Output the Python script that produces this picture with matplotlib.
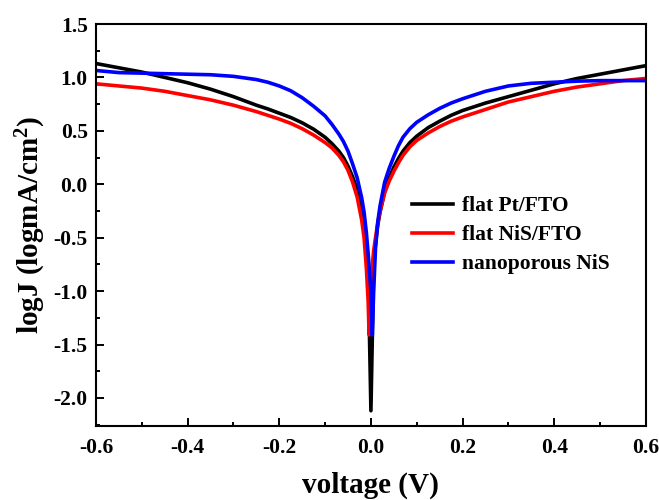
import matplotlib
matplotlib.use("Agg")
import matplotlib.pyplot as plt
from matplotlib.ticker import MultipleLocator

plt.rcParams['font.family'] = ['Liberation Serif', 'DejaVu Serif']
plt.rcParams['font.weight'] = 'bold'
plt.rcParams['axes.unicode_minus'] = False
plt.rcParams['mathtext.fontset'] = 'custom'
plt.rcParams['mathtext.rm'] = 'Liberation Serif:bold'
plt.rcParams['mathtext.bf'] = 'Liberation Serif:bold'
plt.rcParams['mathtext.default'] = 'bf'

# ---- data ----
v_pt = [-0.6, -0.55, -0.5, -0.45, -0.4, -0.35, -0.3, -0.25, -0.225, -0.2, -0.175, -0.15,
        -0.125, -0.1, -0.085, -0.07, -0.06, -0.05, -0.04, -0.03, -0.02, -0.015, -0.01, -0.006,
        0.0,
        0.006, 0.01, 0.015, 0.02, 0.03, 0.04, 0.05, 0.06, 0.07, 0.085, 0.1, 0.125, 0.15,
        0.175, 0.2, 0.25, 0.3, 0.35, 0.4, 0.45, 0.5, 0.55, 0.6]
j_pt = [1.13, 1.09, 1.05, 1.00, 0.95, 0.89, 0.82, 0.74, 0.705, 0.665, 0.625, 0.575,
        0.515, 0.44, 0.38, 0.31, 0.25, 0.17, 0.07, -0.05, -0.24, -0.37, -0.55, -0.78,
        -2.12,
        -0.78, -0.56, -0.38, -0.26, -0.07, 0.06, 0.16, 0.24, 0.31, 0.39, 0.45, 0.53, 0.59,
        0.645, 0.69, 0.76, 0.82, 0.88, 0.94, 0.99, 1.03, 1.07, 1.11]

v_nis = [-0.6, -0.55, -0.5, -0.45, -0.4, -0.35, -0.3, -0.25, -0.225, -0.2, -0.175, -0.15,
         -0.125, -0.1, -0.085, -0.07, -0.06, -0.05, -0.04, -0.03, -0.02, -0.015, -0.01, -0.006,
         -0.004, 0.0,
         0.006, 0.01, 0.015, 0.02, 0.03, 0.04, 0.05, 0.06, 0.07, 0.085, 0.1, 0.125, 0.15,
         0.175, 0.2, 0.25, 0.3, 0.35, 0.4, 0.45, 0.5, 0.55, 0.6]
j_nis = [0.94, 0.92, 0.90, 0.87, 0.83, 0.79, 0.74, 0.68, 0.645, 0.61, 0.57, 0.52,
         0.46, 0.39, 0.34, 0.27, 0.21, 0.13, 0.02, -0.12, -0.34, -0.5, -0.78, -1.1,
         -1.41, -0.9,
         -0.62, -0.5, -0.36, -0.25, -0.08, 0.03, 0.12, 0.20, 0.27, 0.35, 0.41, 0.48, 0.54,
         0.59, 0.63, 0.70, 0.77, 0.82, 0.87, 0.91, 0.94, 0.97, 0.99]

v_nano = [-0.6, -0.55, -0.5, -0.45, -0.4, -0.35, -0.3, -0.25, -0.225, -0.2, -0.175, -0.15,
          -0.125, -0.1, -0.085, -0.07, -0.06, -0.05, -0.04, -0.03, -0.02, -0.015, -0.01, -0.006,
          0.0, 0.003,
          0.006, 0.01, 0.015, 0.02, 0.03, 0.04, 0.05, 0.06, 0.07, 0.085, 0.1, 0.125, 0.15,
          0.175, 0.2, 0.25, 0.3, 0.35, 0.4, 0.45, 0.5, 0.55, 0.6]
j_nano = [1.065, 1.045, 1.04, 1.035, 1.03, 1.025, 1.01, 0.98, 0.955, 0.92, 0.875, 0.81,
          0.73, 0.64, 0.56, 0.47, 0.40, 0.31, 0.19, 0.06, -0.13, -0.26, -0.45, -0.65,
          -1.0, -1.41,
          -1.0, -0.6, -0.35, -0.2, 0.02, 0.15, 0.26, 0.36, 0.44, 0.52, 0.58, 0.65, 0.71,
          0.76, 0.80, 0.87, 0.92, 0.945, 0.955, 0.965, 0.97, 0.97, 0.97]

labels = ['flat Pt/FTO', 'flat NiS/FTO', 'nanoporous NiS']
colors = ['#000000', '#ff0000', '#0000ff']

fig = plt.figure(figsize=(6.59, 5.0), dpi=100)
ax = fig.add_axes([0.1457, 0.1486, 0.8343, 0.8034])

for v, j, lab, c in zip([v_pt, v_nis, v_nano], [j_pt, j_nis, j_nano], labels, colors):
    ax.plot(v, j, color=c, lw=2.6, label=lab, solid_joinstyle='round')

ax.set_xlim(-0.6, 0.6)
ax.set_ylim(-2.26, 1.5)
ax.xaxis.set_major_locator(MultipleLocator(0.2))
ax.xaxis.set_minor_locator(MultipleLocator(0.1))
ax.yaxis.set_major_locator(MultipleLocator(0.5))
ax.yaxis.set_minor_locator(MultipleLocator(0.25))
ax.tick_params(which='both', direction='in', top=False, right=False, width=1.4,
               labelsize=15.5)
ax.tick_params(which='major', length=6)
ax.tick_params(which='minor', length=3)
ax.tick_params(axis='x', pad=9)
ax.tick_params(axis='y', pad=6)
for s in ax.spines.values():
    s.set_linewidth(1.5)

ax.set_xlabel('voltage (V)', fontsize=21, fontweight='bold', labelpad=10)
ax.set_ylabel(r'logJ (logmA/cm$^{2}$)', fontsize=21, fontweight='bold', labelpad=4)

leg = ax.legend(loc='upper left', bbox_to_anchor=(0.54, 0.62), frameon=False,
                prop={'family': 'Liberation Serif', 'weight': 'bold', 'size': 15.5},
                handlelength=1.9, handletextpad=0.4, labelspacing=0.42)

fig.savefig('out.png', dpi=100)
